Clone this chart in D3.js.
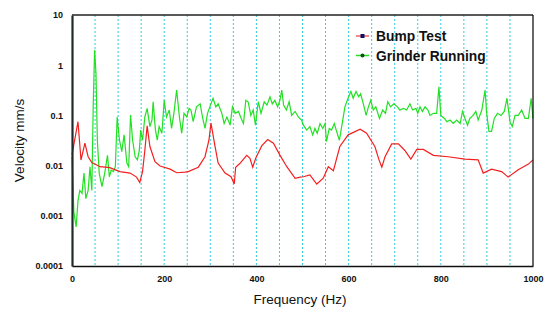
<!DOCTYPE html>
<html>
<head>
<meta charset="utf-8">
<script src="https://cdn.jsdelivr.net/npm/d3@7"></script>
<style>
  body { margin: 0; background: #fff; }
  text { font-family: "Liberation Sans", Arial, sans-serif; }
</style>
</head>
<body>
<script>
// 数据：频率(Hz)与速度(mm/s)
var bumpFreq = [0, 13, 19.5, 28, 35, 43, 61, 82, 104, 126, 140, 147, 153, 158, 163, 169, 180, 191, 213, 227, 245, 252, 274, 288.5, 297, 301.5, 309, 317, 332, 345, 352, 355, 364, 379, 386, 392, 398.5, 411.5, 424.5, 437, 451, 466, 484, 495, 502, 516, 531, 545, 556, 567, 581, 599, 625, 639, 657, 666, 672, 679, 693.5, 708, 722, 735, 748, 762, 784, 816, 852.5, 881, 892, 910, 932, 946, 968, 990, 1000];
var bumpVal = [0.0163, 0.075, 0.0129, 0.028, 0.015, 0.0115, 0.0095, 0.0091, 0.0076, 0.0071, 0.0059, 0.0046, 0.0076, 0.020, 0.062, 0.024, 0.012, 0.0098, 0.0085, 0.0072, 0.0074, 0.0076, 0.0093, 0.015, 0.032, 0.070, 0.028, 0.0112, 0.0071, 0.0060, 0.0043, 0.0093, 0.011, 0.016, 0.014, 0.0093, 0.014, 0.0247, 0.033, 0.028, 0.0162, 0.0095, 0.0056, 0.0059, 0.0060, 0.0065, 0.0043, 0.0056, 0.0095, 0.0079, 0.024, 0.041, 0.053, 0.044, 0.024, 0.013, 0.0093, 0.015, 0.027, 0.027, 0.020, 0.0135, 0.021, 0.021, 0.016, 0.015, 0.0135, 0.013, 0.0071, 0.0085, 0.0076, 0.0059, 0.0083, 0.0107, 0.013];

var grindFreq = [0, 4, 9, 13, 17, 21.7, 26, 30, 35, 39, 43, 46, 49, 52, 55, 59, 65, 71, 77, 81, 85, 90, 94, 98, 103, 108, 113, 119, 123, 127, 131.5, 137, 142, 146, 149, 153, 158, 163, 169, 173.5, 176, 181, 185, 189, 195, 200, 205, 211, 216, 221, 227, 233, 238, 243, 249, 254, 258, 263, 270, 278, 283, 288.5, 294, 299, 306, 312, 317, 325, 330, 336, 343, 348, 354, 361, 367, 372, 377, 382, 388, 393, 398, 404, 410, 417, 423, 429.5, 434.5, 440, 446, 451, 455, 459, 465, 471, 476.5, 484, 491, 498, 502, 509, 516, 522, 527, 532, 538, 544, 549, 552, 558, 563, 569, 574, 580, 585, 592, 600, 605, 610, 616, 622, 626, 632, 638, 643, 648, 653.5, 659, 667, 674, 680, 685, 691, 698, 706, 711, 719, 726, 733, 739, 746, 750, 755, 760, 766, 772, 776.6, 784, 791, 796, 800, 808, 813, 820, 827, 834.5, 842, 847, 852.5, 858, 863, 870, 876, 881, 889, 896, 899.5, 904.5, 910, 916, 923, 930.6, 937.7, 943.6, 950, 955, 961, 968, 975.5, 982.6, 990, 996, 1000];
var grindVal = [0.015, 0.0012, 0.0006, 0.002, 0.0032, 0.0028, 0.0071, 0.0022, 0.0032, 0.0095, 0.0032, 0.148, 2.0, 0.69, 0.032, 0.0071, 0.0038, 0.0071, 0.016, 0.006, 0.0081, 0.0076, 0.0095, 0.093, 0.032, 0.019, 0.041, 0.0112, 0.0095, 0.102, 0.032, 0.015, 0.013, 0.020, 0.051, 0.032, 0.093, 0.138, 0.060, 0.081, 0.187, 0.051, 0.032, 0.060, 0.044, 0.20, 0.093, 0.128, 0.055, 0.11, 0.32, 0.093, 0.044, 0.11, 0.093, 0.138, 0.128, 0.075, 0.148, 0.17, 0.093, 0.055, 0.11, 0.148, 0.22, 0.148, 0.17, 0.11, 0.069, 0.093, 0.064, 0.148, 0.11, 0.12, 0.087, 0.069, 0.20, 0.187, 0.10, 0.128, 0.064, 0.187, 0.11, 0.187, 0.16, 0.235, 0.17, 0.20, 0.148, 0.20, 0.32, 0.16, 0.128, 0.187, 0.10, 0.12, 0.093, 0.081, 0.064, 0.051, 0.060, 0.041, 0.055, 0.044, 0.069, 0.055, 0.069, 0.030, 0.055, 0.051, 0.069, 0.048, 0.032, 0.060, 0.148, 0.235, 0.30, 0.22, 0.30, 0.235, 0.27, 0.17, 0.10, 0.148, 0.20, 0.128, 0.148, 0.087, 0.128, 0.11, 0.187, 0.148, 0.17, 0.148, 0.128, 0.138, 0.128, 0.17, 0.128, 0.138, 0.11, 0.148, 0.12, 0.148, 0.128, 0.10, 0.11, 0.11, 0.37, 0.10, 0.087, 0.075, 0.081, 0.069, 0.081, 0.069, 0.12, 0.087, 0.064, 0.087, 0.10, 0.12, 0.081, 0.128, 0.32, 0.11, 0.048, 0.048, 0.087, 0.11, 0.10, 0.12, 0.22, 0.075, 0.060, 0.10, 0.10, 0.128, 0.087, 0.087, 0.22, 0.087];

var xTicks = [0, 200, 400, 600, 800, 1000];
var yTicks = [0.0001, 0.001, 0.01, 0.1, 1, 10];
var gridFreq = d3.range(50, 1000, 50);
var seriesNames = ["Bump Test", "Grinder Running"];

var W = 545, H = 311;
var pLeft = 72, pRight = 533, pTop = 15, pBottom = 266;

var x = d3.scaleLinear().domain([0, 1000]).range([pLeft, pRight]);
var y = d3.scaleLog().domain([0.0001, 10]).range([pBottom, pTop]);

var svg = d3.select("body").append("svg").attr("width", W).attr("height", H);

// 竖向网格线
svg.append("g").selectAll("line").data(gridFreq).enter().append("line")
  .attr("x1", function (d) { return x(d); }).attr("x2", function (d) { return x(d); })
  .attr("y1", pTop).attr("y2", pBottom)
  .attr("stroke", "#2fcde0").attr("stroke-width", 1).attr("stroke-dasharray", "2,2");

var line = d3.line().x(function (d) { return x(d[0]); }).y(function (d) { return y(d[1]); });

svg.append("path").datum(d3.zip(grindFreq, grindVal))
  .attr("fill", "none").attr("stroke", "#22e022").attr("stroke-width", 1.2).attr("d", line);
svg.append("path").datum(d3.zip(bumpFreq, bumpVal))
  .attr("fill", "none").attr("stroke", "#f42020").attr("stroke-width", 1.2).attr("d", line);

// 外框
svg.append("line").attr("x1", pLeft).attr("x2", pRight).attr("y1", pTop).attr("y2", pTop).attr("stroke", "#222").attr("stroke-width", 1.5);
svg.append("line").attr("x1", pRight).attr("x2", pRight).attr("y1", pTop).attr("y2", pBottom).attr("stroke", "#000").attr("stroke-width", 1.2);

// 坐标轴
var xAxis = d3.axisBottom(x).tickValues(xTicks).tickSize(0).tickPadding(10).tickFormat(d3.format("d"));
var yAxis = d3.axisLeft(y).tickValues(yTicks).tickSize(0).tickPadding(9)
  .tickFormat(function (d) { return d >= 1 ? d3.format("d")(d) : String(+d.toPrecision(1)); });

var gx = svg.append("g").attr("transform", "translate(0," + pBottom + ")").call(xAxis);
var gy = svg.append("g").attr("transform", "translate(" + pLeft + ",0)").call(yAxis);
gx.select(".domain").attr("stroke", "#111").attr("stroke-width", 1.6);
gy.select(".domain").attr("stroke", "#1d2b2b").attr("stroke-width", 2.2);
svg.selectAll(".tick text").attr("font-family", "Liberation Sans, Arial, sans-serif")
  .attr("font-size", 9).attr("font-weight", "bold").attr("fill", "#111");

// 轴标题
svg.append("text").attr("x", 300).attr("y", 304).attr("text-anchor", "middle")
  .attr("font-size", 13.5).attr("fill", "#111").text("Frequency (Hz)");
svg.append("text").attr("transform", "translate(24," + ((pTop + pBottom) / 2) + ") rotate(-90)")
  .attr("text-anchor", "middle").attr("font-size", 13.5).attr("fill", "#111").text("Velocity mm/s");

// 图例
var legend = svg.append("g");
var legColors = ["#f46060", "#22e022"];
seriesNames.forEach(function (name, i) {
  var ly = 36 + i * 19.5;
  legend.append("line").attr("x1", 356).attr("x2", 369).attr("y1", ly).attr("y2", ly)
    .attr("stroke", legColors[i]).attr("stroke-width", 1.5);
  if (i === 0) {
    legend.append("rect").attr("x", 360.5).attr("y", ly - 2).attr("width", 4).attr("height", 4).attr("fill", "#101060");
  } else {
    legend.append("circle").attr("cx", 362.5).attr("cy", ly).attr("r", 2).attr("fill", "#105010");
  }
  legend.append("text").attr("x", 376).attr("y", ly + 5).attr("font-size", 13.8)
    .attr("font-weight", "bold").attr("fill", "#111").text(name);
});
</script>
</body>
</html>
